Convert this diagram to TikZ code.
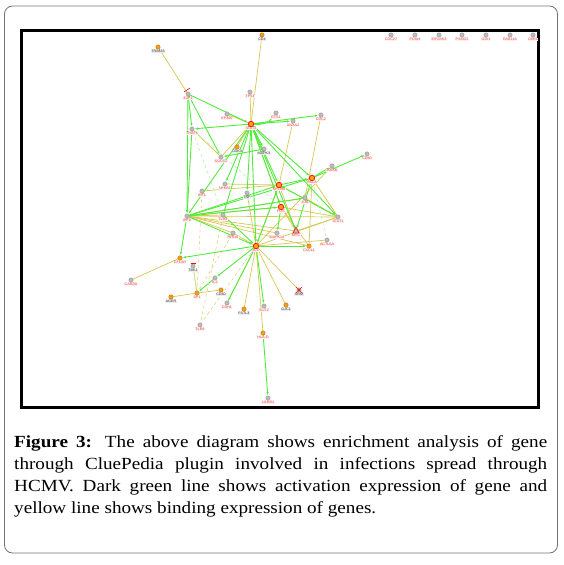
\documentclass[tikz,border=0pt]{standalone}
\usepackage{fontspec}
\usepackage{graphicx}
\setmainfont{Liberation Serif}
\newfontfamily\capfont{Liberation Serif}
\newfontfamily\labfont{Liberation Sans}
\usetikzlibrary{arrows.meta}
\pgfdeclarelayer{bg}
\pgfsetlayers{bg,main}
\definecolor{actgreen}{RGB}{80,236,60}
\definecolor{bindyel}{RGB}{215,198,80}
\definecolor{labred}{RGB}{240,70,70}
\definecolor{nodegray}{RGB}{188,188,188}
\definecolor{hubor}{RGB}{250,160,20}
\tikzset{
 gn/.style={circle,fill=nodegray,draw=black!45,line width=0.3pt,inner sep=0pt,minimum size=4.4pt},
 on/.style={circle,fill=hubor,draw=orange!70!black,line width=0.3pt,inner sep=0pt,minimum size=4.4pt},
 hub/.style={circle,fill=hubor,draw=red,line width=0.7pt,inner sep=0pt,minimum size=5.5pt},
 lab/.style={font=\labfont\fontsize{3.7}{4}\selectfont,text=labred,inner sep=0.4pt,fill=red!6},
 labd/.style={font=\labfont\fontsize{3.7}{4}\selectfont,text=black!75,inner sep=0.4pt,fill=black!8},
 act/.style={draw=actgreen,line width=0.9pt,-{Latex[length=3pt,width=2.4pt]},shorten >=0.5pt},
 bind/.style={draw=bindyel,line width=0.7pt},
 lact/.style={draw=actgreen!45,line width=0.6pt,dashed},
 lbind/.style={draw=bindyel!75,line width=0.6pt,dashed},
 capline/.style={anchor=base west,inner sep=0pt,font=\capfont\fontsize{17}{22}\selectfont},
 redmark/.style={draw=red,line width=0.6pt}
}
\newcommand\genenode[6]{\node[#4] (#1) at (#2,#3) {};\node[#5,anchor=north] (#1l) at (#2,#3+2.5) {#6};}
\newcommand\capwide[1]{\scalebox{1.126}[1]{#1}}
\begin{document}
\begin{tikzpicture}[x=1pt,y=-1pt]
\useasboundingbox (0,0) rectangle (563,565);
\draw[black!55,line width=0.8pt,rounded corners=8pt] (4.5,6) rectangle (557.5,553);
\draw[black,line width=3pt] (21.5,30.5) rectangle (538.5,407.5);
% top row
\genenode{cdcb}{391}{35}{gn}{lab}{CDC27}
\genenode{pdia}{415}{35}{gn}{lab}{PDIA4}
\genenode{eif}{439}{35}{gn}{lab}{EIF2AK3}
\genenode{psmd}{462}{35}{gn}{lab}{PSMD2}
\genenode{gdi}{486}{35}{gn}{lab}{GDI1}
\genenode{rab}{510}{35}{gn}{lab}{RAB11A}
\genenode{cbr}{533}{35}{gn}{lab}{CBR1}
% network
\genenode{trim}{158}{47}{on}{labd}{TRIM28}
\genenode{cdf}{262}{35}{on}{labd}{CD4}
\genenode{e2f}{188}{94}{gn}{lab}{E2F1}
\genenode{tpf}{250}{92}{gn}{lab}{TP53}
\genenode{epr}{227}{114}{gn}{lab}{EP300}
\genenode{hubA}{251}{124}{hub}{lab}{STAT3}
\genenode{ets}{276}{113}{gn}{lab}{ETS1}
\genenode{anx}{293}{121}{gn}{lab}{ANXA2}
\genenode{cdc}{321}{115}{gn}{lab}{CDC2}
\genenode{traf}{192}{129}{gn}{lab}{TRAF6}
\genenode{cdk}{237}{147}{on}{labd}{CDK4}
\genenode{mapk}{264}{149}{gn}{labd}{MAPK3}
\genenode{socs}{221}{157}{gn}{lab}{SOCS1}
\genenode{cde}{367}{154}{gn}{lab}{CD80}
\genenode{ikbk}{332}{166}{gn}{lab}{IKBKB}
\genenode{hubB}{312}{178}{hub}{lab}{RELA}
\genenode{hubC}{279}{185}{hub}{lab}{MYD88}
\genenode{nfk}{225}{184}{gn}{lab}{NFKB1}
\genenode{irfo}{202}{191}{gn}{lab}{IRF1}
\genenode{tnf}{247}{193}{gn}{labd}{TNF}
\genenode{jun}{305}{198}{gn}{lab}{JUN}
\genenode{hubD}{281}{207}{hub}{lab}{FOS}
\genenode{irfe}{187}{216}{gn}{lab}{IRF8}
\genenode{tlr}{223}{215}{gn}{lab}{TLR4}
\genenode{stat}{338}{217}{gn}{lab}{STAT1}
\genenode{rhoa}{233}{233}{gn}{lab}{RHOA}
\genenode{mapkf}{277}{233}{gn}{lab}{MAPK14}
\genenode{myc}{296}{231}{gn}{lab}{MYC}
\genenode{actl}{327}{240}{gn}{lab}{ACTL6A}
\genenode{hubE}{256}{246}{hub}{lab}{IL6}
\genenode{cxcl}{309}{246}{on}{lab}{CXCL1}
\genenode{cflar}{180}{258}{on}{lab}{CFLAR}
\genenode{tbk}{193}{266}{gn}{labd}{TBK1}
\genenode{card}{131}{280}{gn}{lab}{CARD8}
\genenode{iltwo}{215}{278}{gn}{lab}{IL2}
\genenode{spo}{197}{293}{on}{lab}{SP1}
\genenode{cdforty}{221}{290}{on}{labd}{CD40}
\genenode{ager}{171}{297}{on}{labd}{AGER}
\genenode{cdh}{227}{303}{gn}{lab}{CDH1}
\genenode{tlrn}{200}{325}{gn}{lab}{TLR9}
\genenode{fstl}{244}{309}{on}{labd}{FSTL3}
\genenode{slit}{264}{306}{gn}{lab}{SLIT2}
\genenode{gjc}{286}{305}{on}{labd}{GJC1}
\genenode{srm}{299}{290}{gn}{labd}{SRM}
\genenode{hlag}{263}{333}{on}{lab}{HLA-G}
\genenode{lilr}{268}{398}{gn}{lab}{LILRB1}
% small marks
\draw[redmark] (184,92) -- (190,88);
\draw[redmark] (191,263) -- (196,263);
\draw[redmark] (296,287) -- (302,293) (296,293) -- (302,287);
\draw[redmark,line width=0.5pt] (293,233) -- (296,227) -- (299,233) -- cycle;
\begin{pgfonlayer}{bg}
\foreach \a/\b in {trim/e2f,cdf/hubA,tpf/hubA,epr/hubA,hubA/cdk,hubA/socs,anx/hubC,cdc/jun,traf/socs,hubB/stat,jun/stat,irfe/hubD,irfe/rhoa,irfe/jun,irfe/tlr,hubC/myc,hubD/myc,hubD/cxcl,stat/hubD,stat/hubE,stat/myc,hubB/cxcl,card/cflar,tbk/spo,spo/cdforty,spo/ager,hubE/cdh,hubE/fstl,hubE/gjc,hubE/srm,hubE/hlag,hubE/rhoa,nfk/hubC,irfo/hubC,irfe/stat,irfe/cxcl,hubA/hubD,hubC/stat,hubE/ikbk,tnf/hubE,hubE/actl,irfe/mapkf,hubC/hubE,irfe/myc}
  \draw[bind] (\a) -- (\b);
\foreach \a/\b in {e2f/hubA,e2f/traf,e2f/socs,e2f/irfe,hubA/traf,hubA/anx,hubA/cdc,hubA/mapk,hubA/hubC,hubA/hubD,hubA/hubE,hubA/hubB,hubA/stat,hubA/tnf,hubA/irfe,hubA/nfk,mapk/socs,traf/irfe,hubB/cde,hubB/ikbk,hubC/hubB,hubC/stat,irfe/hubC,irfe/hubB,irfe/hubE,hubC/hubE,hubB/myc,hubE/cxcl,hubE/cflar,irfe/cflar,hubE/iltwo,iltwo/spo,hubE/cdh,hubE/slit,hlag/lilr,hubD/mapkf,tlr/hubE,hubA/tlr,irfe/hubD,irfe/jun,hubA/myc}
  \draw[act] (\a) -- (\b);
\draw[act] (hubA) to[bend right=30] (ets);
\foreach \a/\b in {traf/hubD,hubB/actl,traf/tlr,tbk/spo}
  \draw[lact] (\a) -- (\b);
\foreach \a/\b in {tlr/tlrn,rhoa/spo,irfo/spo,hubE/tlrn}
  \draw[lbind] (\a) -- (\b);
\end{pgfonlayer}
% caption
\node[capline] (c1) at (14,447) {\capwide{\makebox[473.4pt][s]{\textbf{Figure 3:} The above diagram shows enrichment analysis of gene}}};
\node[capline] (c2) at (14,469) {\capwide{\makebox[473.4pt][s]{through CluePedia plugin involved in infections spread through}}};
\node[capline] (c3) at (14,491) {\capwide{\makebox[473.4pt][s]{HCMV. Dark green line shows activation expression of gene and}}};
\node[capline] (c4) at (14,513) {\capwide{yellow line shows binding expression of genes.}};
\end{tikzpicture}
\end{document}
